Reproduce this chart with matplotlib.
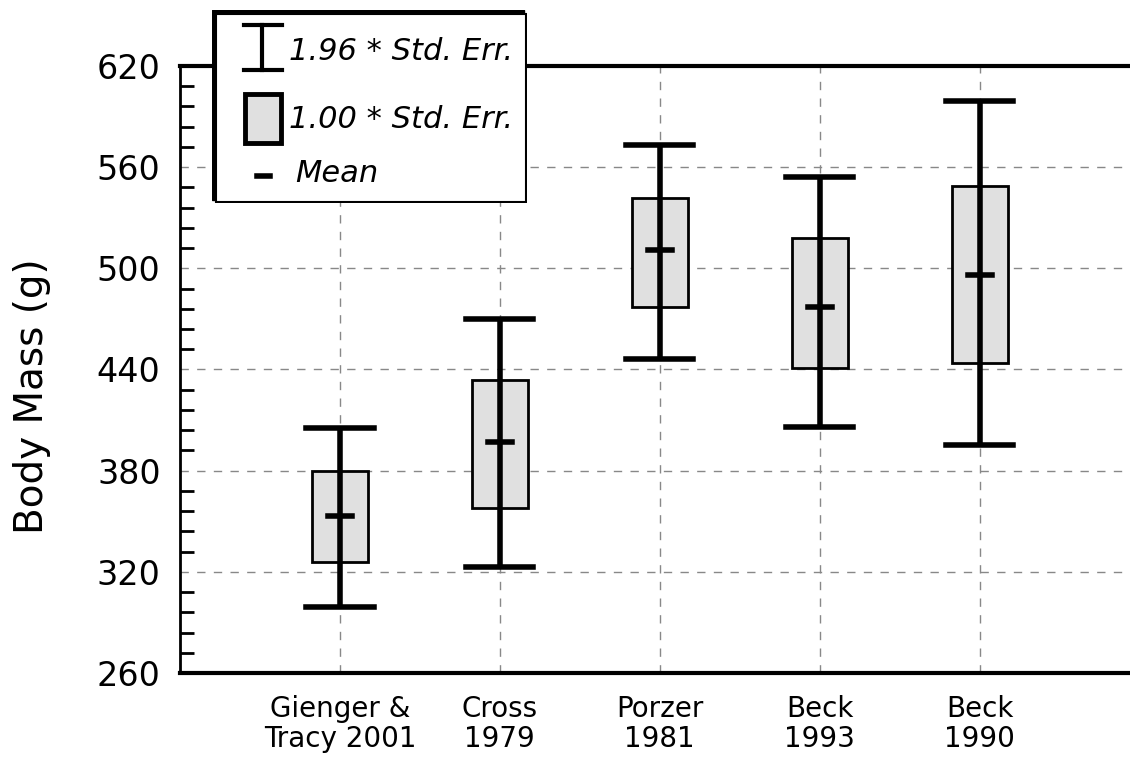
import numpy as np
import matplotlib
matplotlib.use("Agg")
import matplotlib.pyplot as plt
from matplotlib.patches import Rectangle

# data
studies = ["Gienger &\nTracy 2001", "Cross\n1979", "Porzer\n1981", "Beck\n1993", "Beck\n1990"]
means = [353, 397, 511, 477, 496]
box_lo = [326, 358, 477, 441, 444]
box_hi = [380, 434, 542, 518, 549]
whisk_lo = [299, 323, 446, 406, 395]
whisk_hi = [405, 470, 573, 554, 599]

plt.rcParams['font.family'] = ['DejaVu Sans']

fig = plt.figure(figsize=(11.3, 7.63), dpi=100)
ax = fig.add_axes([0.1593, 0.118, 0.8407, 0.7955])

x = np.arange(len(studies))
box_w = 0.35
cap_w = 0.42
mean_w = 0.15

ax.set_xlim(-1, 4.94)
ax.set_ylim(260, 620)
ax.set_yticks(np.arange(260, 621, 60))
ax.set_yticks(np.arange(260, 621, 12), minor=True)
ax.set_xticks(x)
ax.set_xticklabels(studies, fontsize=20, linespacing=1.1)
ax.tick_params(axis='y', which='major', length=0, labelsize=24, pad=14)
ax.tick_params(axis='y', which='minor', length=10, width=2, direction='in')
ax.tick_params(axis='x', length=0, pad=16)
ax.set_ylabel("Body Mass (g)", fontsize=28, va='center')
ax.yaxis.set_label_coords(-0.156, 0.456)

ax.grid(True, which='major', color='#888888', linestyle=(0, (6, 6)), linewidth=1)
ax.set_axisbelow(True)

ax.spines['right'].set_visible(False)
ax.spines['left'].set_linewidth(2)
ax.spines['bottom'].set_linewidth(3)
ax.spines['top'].set_linewidth(3)

for i in range(len(studies)):
    ax.add_patch(Rectangle((x[i] - box_w / 2, box_lo[i]), box_w, box_hi[i] - box_lo[i],
                           facecolor='#e0e0e0', edgecolor='black', linewidth=2, zorder=2))
    ax.plot([x[i], x[i]], [whisk_lo[i], whisk_hi[i]], color='black', lw=4, zorder=3,
            solid_capstyle='butt')
    ax.plot([x[i] - cap_w / 2, x[i] + cap_w / 2], [whisk_lo[i]] * 2, color='black', lw=4, zorder=3)
    ax.plot([x[i] - cap_w / 2, x[i] + cap_w / 2], [whisk_hi[i]] * 2, color='black', lw=4, zorder=3)
    ax.plot([x[i] - mean_w / 2, x[i] + mean_w / 2], [means[i]] * 2, color='black', lw=4, zorder=4)

# legend box drawn by hand (pixel coords inside an inset axes)
lg = fig.add_axes([212 / 1130, 1 - 203 / 763, 315 / 1130, 193 / 763])
lg.set_xlim(0, 315)
lg.set_ylim(193, 0)
lg.axis('off')
lg.add_patch(Rectangle((0, 0), 312, 190, facecolor='black', edgecolor='black', zorder=1))
lg.add_patch(Rectangle((4, 4), 310, 188, facecolor='white', edgecolor='black', lw=1.5, zorder=2))
# errorbar symbol
lg.plot([50, 50], [15, 60], color='black', lw=3, zorder=3)
lg.plot([32, 70], [15, 15], color='black', lw=3, zorder=3)
lg.plot([32, 70], [60, 60], color='black', lw=3, zorder=3)
lg.text(77, 42, "1.96 * Std. Err.", fontsize=22, style='italic', va='center', zorder=3)
# box symbol
lg.add_patch(Rectangle((33, 84), 36, 49, facecolor='#e0e0e0', edgecolor='black', lw=3.5, zorder=3))
lg.text(77, 110, "1.00 * Std. Err.", fontsize=22, style='italic', va='center', zorder=3)
# mean symbol
lg.plot([45, 58], [166, 166], color='black', lw=4, zorder=3)
lg.text(83, 164, "Mean", fontsize=22, style='italic', va='center', zorder=3)

fig.savefig("out.png", dpi=100)
